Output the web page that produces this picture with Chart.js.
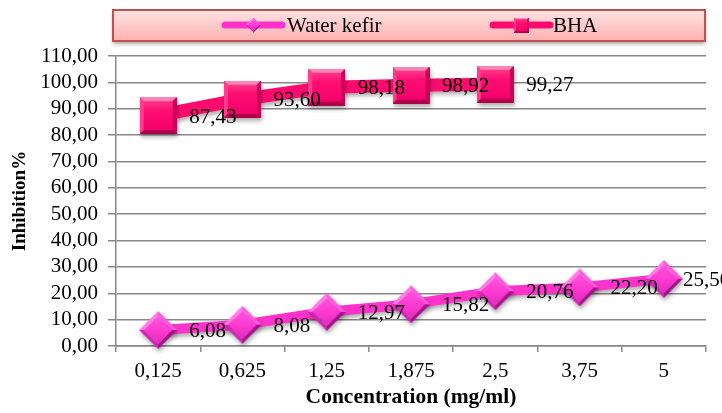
<!DOCTYPE html>
<html>
<head>
<meta charset="utf-8">
<script src="https://cdn.jsdelivr.net/npm/chart.js@4.4.1/dist/chart.umd.min.js"></script>
<style>
  html, body { margin: 0; padding: 0; background: #ffffff; }
  #wrap { width: 722px; height: 413px; }
</style>
</head>
<body>
<div id="wrap"><canvas id="chart" width="722" height="413"></canvas></div>
<script>
// Concentrations tested (category axis)
const concentrations = ['0,125', '0,625', '1,25', '1,875', '2,5', '3,75', '5'];
// Inhibition % per concentration
const waterKefir = [6.08, 8.08, 12.97, 15.82, 20.76, 22.20, 25.50];
const bha = [87.43, 93.60, 98.18, 98.92, 99.27];
// Y axis range
const yMin = 0;
const yMax = 110;
const yStep = 10;

const seriesNames = ['Water kefir', 'BHA'];

const KEFIR = '#ff33cc';
const BHA_COL = '#ff0a6e';
const SERIF = '"Liberation Serif", "Times New Roman", serif';

const fmt = v => v.toFixed(2).replace('.', ',');

// Bevelled square marker
function squareMarker(size) {
  const c = document.createElement('canvas');
  c.width = c.height = size;
  const g = c.getContext('2d');
  const b = Math.max(2, Math.round(size * 0.12));
  const face = g.createLinearGradient(0, 0, 0, size);
  face.addColorStop(0, '#ff4a92');
  face.addColorStop(0.35, '#ff0f72');
  face.addColorStop(1, '#f2006a');
  g.fillStyle = face;
  g.fillRect(0, 0, size, size);
  const poly = (pts, col) => {
    g.beginPath();
    g.moveTo(pts[0][0], pts[0][1]);
    for (let i = 1; i < pts.length; i++) g.lineTo(pts[i][0], pts[i][1]);
    g.closePath();
    g.fillStyle = col;
    g.fill();
  };
  poly([[0, 0], [size, 0], [size - b, b], [b, b]], '#ff85b5');
  poly([[0, 0], [b, b], [b, size - b], [0, size]], '#ff3d8a');
  poly([[size, 0], [size, size], [size - b, size - b], [size - b, b]], '#cc0058');
  poly([[0, size], [b, size - b], [size - b, size - b], [size, size]], '#b0004c');
  return c;
}

// Bevelled diamond marker
function diamondMarker(size) {
  const c = document.createElement('canvas');
  c.width = c.height = size;
  const g = c.getContext('2d');
  const h = size / 2;
  const b = Math.max(2, size * 0.13);
  const T = [h, 0], R = [size, h], B = [h, size], L = [0, h];
  const t = [h, b], r = [size - b, h], bb = [h, size - b], l = [b, h];
  const poly = (pts, col) => {
    g.beginPath();
    g.moveTo(pts[0][0], pts[0][1]);
    for (let i = 1; i < pts.length; i++) g.lineTo(pts[i][0], pts[i][1]);
    g.closePath();
    g.fillStyle = col;
    g.fill();
  };
  poly([L, T, t, l], '#ff7ae8');
  poly([T, R, r, t], '#ff5ade');
  poly([R, B, bb, r], '#a8108e');
  poly([B, L, l, bb], '#d424b6');
  const face = g.createLinearGradient(0, b, 0, size - b);
  face.addColorStop(0, '#ff55dd');
  face.addColorStop(0.5, '#ff3bd2');
  face.addColorStop(1, '#e02cbe');
  poly([t, r, bb, l], face);
  return c;
}

const bhaMarker = squareMarker(37);
const kefirMarker = diamondMarker(38);

// Drop shadow for lines and markers, then value labels on top
const shadowAndLabels = {
  id: 'shadowAndLabels',
  beforeDatasetsDraw(chart) {
    const ctx = chart.ctx;
    ctx.save();
    ctx.shadowColor = 'rgba(0,0,0,0.32)';
    ctx.shadowBlur = 4;
    ctx.shadowOffsetX = 1;
    ctx.shadowOffsetY = 3;
  },
  afterDatasetsDraw(chart) {
    const ctx = chart.ctx;
    ctx.restore();
    ctx.save();
    ctx.font = '21px ' + SERIF;
    ctx.fillStyle = '#000000';
    ctx.textAlign = 'left';
    ctx.textBaseline = 'alphabetic';
    // labels sit right of the marker, held back near the canvas edge
    const maxStart = chart.width - 39;
    chart.data.datasets.forEach((ds, i) => {
      const meta = chart.getDatasetMeta(i);
      meta.data.forEach((pt, j) => {
        ctx.fillText(fmt(ds.data[j]), Math.min(pt.x + 31, maxStart), pt.y + 7);
      });
    });
    ctx.restore();
  }
};

// Framed legend band above the plot
const legendBand = {
  id: 'legendBand',
  afterDraw(chart) {
    const ctx = chart.ctx;
    const x0 = 113, y0 = 10, w = 592, h = 31;
    ctx.save();
    ctx.shadowColor = 'rgba(0,0,0,0.35)';
    ctx.shadowBlur = 4;
    ctx.shadowOffsetX = 0;
    ctx.shadowOffsetY = 3;
    const grad = ctx.createLinearGradient(0, y0, 0, y0 + h);
    grad.addColorStop(0, '#ffe3e3');
    grad.addColorStop(1, '#ffb0b0');
    ctx.fillStyle = grad;
    ctx.fillRect(x0, y0, w, h);
    ctx.restore();
    ctx.save();
    ctx.strokeStyle = '#c0504d';
    ctx.lineWidth = 2;
    ctx.strokeRect(x0, y0, w, h);

    const cy = 25;
    const items = [
      { name: seriesNames[0], col: KEFIR, lw: 7, x1: 225, x2: 282, marker: kefirMarker, ms: 15, tx: 287 },
      { name: seriesNames[1], col: BHA_COL, lw: 7, x1: 493, x2: 550, marker: bhaMarker, ms: 15, tx: 553 }
    ];
    items.forEach(it => {
      ctx.strokeStyle = it.col;
      ctx.lineWidth = it.lw;
      ctx.lineCap = 'round';
      ctx.beginPath();
      ctx.moveTo(it.x1, cy);
      ctx.lineTo(it.x2, cy);
      ctx.stroke();
      const mx = (it.x1 + it.x2) / 2;
      ctx.drawImage(it.marker, mx - it.ms / 2, cy - it.ms / 2, it.ms, it.ms);
      ctx.fillStyle = '#000000';
      ctx.font = '21px ' + SERIF;
      ctx.textAlign = 'left';
      ctx.textBaseline = 'alphabetic';
      ctx.fillText(it.name, it.tx, cy + 7);
    });
    ctx.restore();
  }
};

new Chart(document.getElementById('chart'), {
  type: 'line',
  data: {
    labels: concentrations,
    datasets: [
      {
        label: seriesNames[0],
        data: waterKefir,
        borderColor: KEFIR,
        backgroundColor: KEFIR,
        borderWidth: 10,
        pointStyle: kefirMarker,
        pointRadius: 19,
        pointHoverRadius: 19,
        tension: 0,
        clip: false
      },
      {
        label: seriesNames[1],
        data: bha,
        borderColor: BHA_COL,
        backgroundColor: BHA_COL,
        borderWidth: 13,
        pointStyle: bhaMarker,
        pointRadius: 19,
        pointHoverRadius: 19,
        tension: 0,
        clip: false
      }
    ]
  },
  options: {
    responsive: false,
    animation: false,
    devicePixelRatio: 1,
    layout: { autoPadding: false, padding: { top: 56, right: 16, left: 0, bottom: 0 } },
    plugins: {
      legend: { display: false },
      tooltip: { enabled: false }
    },
    scales: {
      x: {
        offset: true,
        afterFit(scale) {
          scale.height = 67;
          scale.paddingLeft = 0;
          scale.paddingRight = 0;
        },
        grid: {
          offset: true,
          drawOnChartArea: false,
          drawTicks: true,
          tickLength: 6,
          color: '#888888',
          lineWidth: 1.5
        },
        border: { display: true, color: '#888888', width: 1.5 },
        ticks: {
          color: '#000000',
          padding: 7,
          maxRotation: 0,
          autoSkip: false,
          font: { family: SERIF, size: 21 }
        },
        title: {
          display: true,
          text: 'Concentration (mg/ml)',
          color: '#000000',
          font: { family: SERIF, size: 21.5, weight: 'bold' },
          padding: { top: 0, bottom: 3 }
        }
      },
      y: {
        min: yMin,
        max: yMax,
        afterFit(scale) {
          scale.width = 116;
        },
        grid: {
          color: '#888888',
          lineWidth: 1.5,
          drawTicks: true,
          tickLength: 8
        },
        border: { display: true, color: '#888888', width: 1.5 },
        ticks: {
          stepSize: yStep,
          autoSkip: false,
          color: '#000000',
          padding: 10,
          font: { family: SERIF, size: 21 },
          callback: v => fmt(v)
        },
        title: {
          display: true,
          text: 'Inhibition%',
          color: '#000000',
          font: { family: SERIF, size: 19, weight: 'bold' },
          padding: { top: 9, bottom: 0 }
        }
      }
    }
  },
  plugins: [shadowAndLabels, legendBand]
});
</script>
</body>
</html>
